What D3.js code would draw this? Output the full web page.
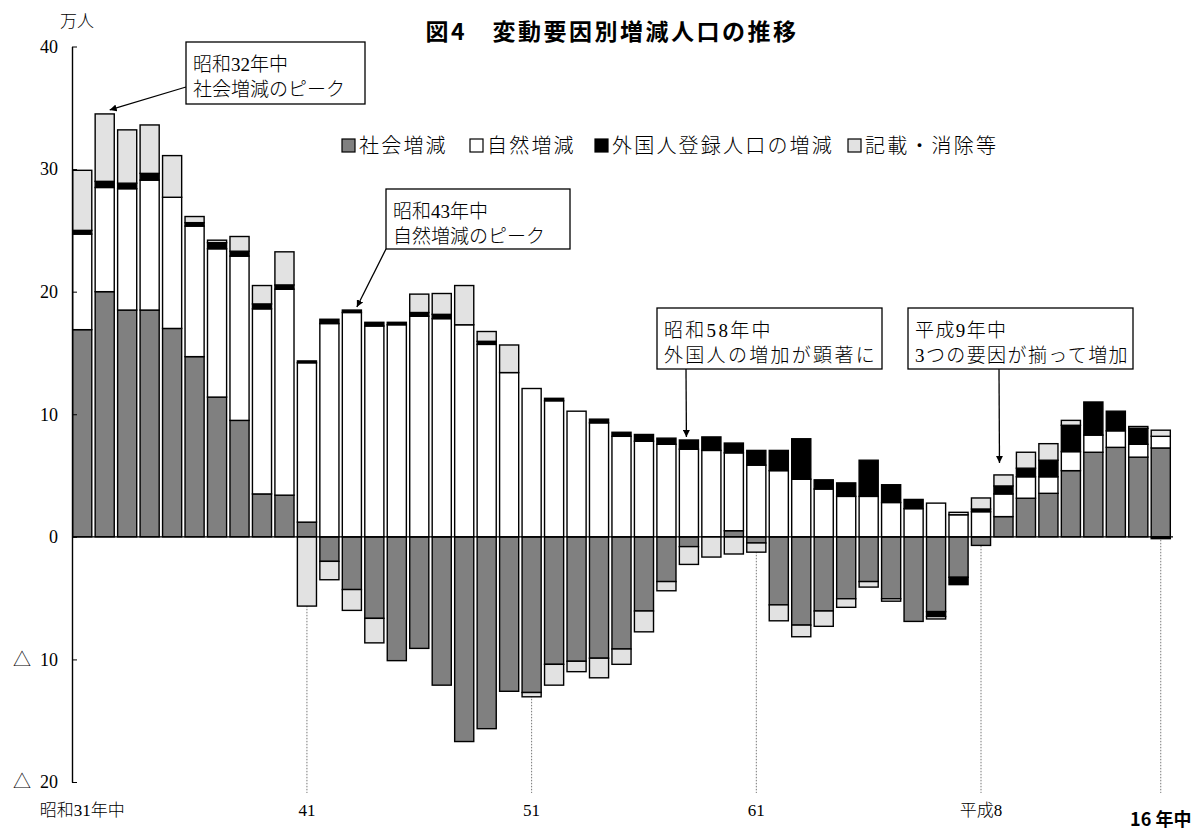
<!DOCTYPE html>
<html>
<head>
<meta charset="utf-8">
<script src="https://cdn.jsdelivr.net/npm/d3@7"></script>
<style>
  body { margin: 0; background: #fff; }
  svg { display: block; }
  .serif { font-family: "Liberation Serif", "Noto Sans CJK JP", serif; font-weight: 300; }
  .gothic { font-family: "Noto Sans CJK JP", "Noto Sans", sans-serif; }
</style>
</head>
<body>
<svg id="chart" width="1198" height="832"></svg>
<script>
// 年次（昭和31年〜平成16年）
const years = [
  "昭和31","昭和32","昭和33","昭和34","昭和35","昭和36","昭和37","昭和38","昭和39","昭和40",
  "昭和41","昭和42","昭和43","昭和44","昭和45","昭和46","昭和47","昭和48","昭和49","昭和50",
  "昭和51","昭和52","昭和53","昭和54","昭和55","昭和56","昭和57","昭和58","昭和59","昭和60",
  "昭和61","昭和62","昭和63","平成元","平成2","平成3","平成4","平成5","平成6","平成7",
  "平成8","平成9","平成10","平成11","平成12","平成13","平成14","平成15","平成16"
];

// 変動要因別増減人口（万人）
const social = [
  16.9, 20.0, 18.5, 18.5, 17.0, 14.7, 11.4, 9.5, 3.5, 3.4,
  1.2, -2.0, -4.3, -6.65, -10.1, -9.1, -12.1, -16.7, -15.65, -12.6,
  -12.7, -10.4, -10.15, -9.9, -9.15, -6.05, -3.65, -0.8, 0.0, 0.5,
  -0.5, -5.55, -7.2, -6.05, -5.05, -3.65, -5.05, -6.9, -6.1, -3.3,
  -0.7, 1.65, 3.15, 3.55, 5.4, 6.9, 7.3, 6.5, 7.25
];
const natural = [
  7.8, 8.5, 9.9, 10.6, 10.7, 10.65, 12.1, 13.4, 15.1, 16.8,
  13.0, 17.4, 18.3, 17.2, 17.3, 18.0, 17.8, 17.3, 15.7, 13.4,
  12.1, 11.1, 10.25, 9.3, 8.2, 7.8, 7.55, 7.15, 7.05, 6.35,
  5.85, 5.4, 4.7, 3.9, 3.3, 3.3, 2.8, 2.3, 2.75, 1.8,
  2.05, 1.85, 1.75, 1.35, 1.55, 1.4, 1.35, 1.05, 0.95
];
const foreign = [
  0.3, 0.5, 0.45, 0.55, 0.0, 0.28, 0.5, 0.4, 0.4, 0.35,
  0.15, 0.35, 0.2, 0.3, 0.2, 0.3, 0.35, 0.0, 0.25, 0.0,
  0.0, 0.2, 0.0, 0.3, 0.33, 0.55, 0.5, 0.75, 1.1, 0.8,
  1.2, 1.65, 3.3, 0.75, 1.1, 2.95, 1.45, 0.75, -0.4, -0.6,
  0.22, 0.65, 0.7, 1.35, 2.15, 2.7, 1.6, 1.3, -0.15
];
const misc = [
  4.9, 5.5, 4.35, 3.95, 3.4, 0.5, 0.2, 1.2, 1.5, 2.7,
  -5.65, -1.5, -1.7, -2.0, 0.0, 1.5, 1.7, 3.2, 0.8, 2.25,
  -0.35, -1.7, -0.85, -1.6, -1.25, -1.7, -0.75, -1.45, -1.65, -1.4,
  -0.75, -1.3, -0.95, -1.25, -0.7, -0.45, -0.2, 0.0, -0.2, 0.2,
  0.9, 0.9, 1.3, 1.35, 0.4, 0.0, 0.0, 0.15, 0.5
];

const seriesKeys = ["社会増減", "自然増減", "外国人登録人口の増減", "記載・消除等"];
const seriesColors = ["#808080", "#ffffff", "#000000", "#e2e2e2"];

// 横軸の目盛り
const tickYears = ["昭和31", "昭和41", "昭和51", "昭和61", "平成8", "平成16"];
const tickTexts = ["昭和31年中", "41", "51", "61", "平成8", "16 年中"];
const yTicks = [40, 30, 20, 10, 0, -10, -20];

// 吹き出し
const notes = [
  { year: "昭和32", lines: ["昭和32年中", "社会増減のピーク"] },
  { year: "昭和43", lines: ["昭和43年中", "自然増減のピーク"] },
  { year: "昭和58", lines: ["昭和58年中", "外国人の増加が顕著に"] },
  { year: "平成9",  lines: ["平成9年中", "3つの要因が揃って増加"] }
];

const svg = d3.select("#chart");

const x = d3.scaleBand().domain(years).range([71, 1172])
  .paddingInner(0.15).paddingOuter(0.075);
const y = d3.scaleLinear().domain([-20, 40]).range([782, 46.5]);

// 積み上げ（正負を分けて積む）
const rows = years.map((yr, i) => ({
  year: yr,
  "社会増減": social[i],
  "自然増減": natural[i],
  "外国人登録人口の増減": foreign[i],
  "記載・消除等": misc[i]
}));
const stacked = d3.stack().keys(seriesKeys).offset(d3.stackOffsetDiverging)(rows);

// 目盛り位置の点線
svg.append("g").selectAll("line")
  .data(tickYears.slice(1))
  .join("line")
  .attr("x1", d => x(d) + x.bandwidth() / 2)
  .attr("x2", d => x(d) + x.bandwidth() / 2)
  .attr("y1", y(0))
  .attr("y2", 793)
  .attr("stroke", "#777")
  .attr("stroke-width", 1)
  .attr("stroke-dasharray", "1.5,1.5");

// 棒
const bars = svg.append("g");
stacked.forEach((layer, li) => {
  bars.append("g")
    .selectAll("rect")
    .data(layer.filter(d => Math.abs(d[1] - d[0]) > 1e-9))
    .join("rect")
    .attr("x", d => x(d.data.year))
    .attr("width", x.bandwidth())
    .attr("y", d => y(Math.max(d[0], d[1])))
    .attr("height", d => Math.abs(y(d[0]) - y(d[1])))
    .attr("fill", seriesColors[li])
    .attr("stroke", "#000")
    .attr("stroke-width", 1.4);
});

// ゼロ線
svg.append("line")
  .attr("x1", 72).attr("x2", 1173)
  .attr("y1", y(0)).attr("y2", y(0))
  .attr("stroke", "#000").attr("stroke-width", 1.4);

// 縦軸
const yAxis = d3.axisLeft(y)
  .tickValues(yTicks)
  .tickSize(-5)
  .tickSizeOuter(0)
  .tickPadding(14)
  .tickFormat(d => d < 0 ? "△\u2002" + (-d) : String(d));
const gy = svg.append("g").attr("transform", "translate(72,0)").call(yAxis);
gy.select(".domain").attr("stroke", "#000").attr("stroke-width", 1.4);
gy.selectAll(".tick line").attr("stroke", "#000");
gy.selectAll(".tick text")
  .attr("class", "serif")
  .attr("font-size", 18)
  .attr("fill", "#000");

// 単位
svg.append("text").attr("class", "serif")
  .attr("x", 60).attr("y", 27)
  .attr("font-size", 17)
  .text("万人");

// 表題
svg.append("text").attr("class", "gothic")
  .attr("x", 612).attr("y", 40)
  .attr("text-anchor", "middle")
  .attr("font-size", 23)
  .attr("font-weight", "bold")
  .attr("letter-spacing", 2.5)
  .text("図4　変動要因別増減人口の推移");

// 横軸ラベル
svg.append("g").selectAll("text")
  .data(tickYears.slice(0, 5))
  .join("text")
  .attr("class", "serif")
  .attr("x", d => x(d) + x.bandwidth() / 2)
  .attr("y", 816)
  .attr("text-anchor", "middle")
  .attr("font-size", 17)
  .text((d, i) => tickTexts[i]);
svg.append("text").attr("class", "gothic")
  .attr("x", x(tickYears[5]) + x.bandwidth() / 2)
  .attr("y", 826)
  .attr("text-anchor", "middle")
  .attr("font-size", 18)
  .attr("font-weight", "bold")
  .text(tickTexts[5]);

// 凡例
const legendX = [342, 470, 595, 848];
const lg = svg.append("g");
seriesKeys.forEach((k, i) => {
  lg.append("rect")
    .attr("x", legendX[i]).attr("y", 139)
    .attr("width", 13).attr("height", 13)
    .attr("fill", seriesColors[i])
    .attr("stroke", "#000").attr("stroke-width", 1.2);
  lg.append("text").attr("class", "serif")
    .attr("x", legendX[i] + 17).attr("y", 153)
    .attr("font-size", 20)
    .attr("letter-spacing", 2.2)
    .text(k);
});

// 吹き出しと矢印
const defs = svg.append("defs");
defs.append("marker")
  .attr("id", "arrowhead")
  .attr("viewBox", "0 0 10 10")
  .attr("refX", 10).attr("refY", 5)
  .attr("markerWidth", 7).attr("markerHeight", 7)
  .attr("markerUnits", "userSpaceOnUse")
  .attr("orient", "auto")
  .append("path").attr("d", "M0,0 L10,5 L0,10 z").attr("fill", "#000");

const boxes = [
  { bx: 186, by: 42,  bw: 179, bh: 62, ls: 0,   from: [186, 87],  dx: 5,  dy: -4 },
  { bx: 386, by: 189, bw: 184, bh: 60, ls: 0,   from: [386, 249], dx: 5,  dy: -3 },
  { bx: 657, by: 308, bw: 225, bh: 61, ls: 2.3, from: [686, 369], dx: -2.5, dy: -3 },
  { bx: 908, by: 308, bw: 225, bh: 61, ls: 1.4, from: [999, 369], dx: -4, dy: -12 }
];
const totalPos = i => d3.sum([social[i], natural[i], foreign[i], misc[i]].filter(v => v > 0));

notes.forEach((n, k) => {
  const b = boxes[k];
  const i = years.indexOf(n.year);
  const tipX = x(n.year) + x.bandwidth() / 2 + b.dx;
  const tipY = y(totalPos(i)) + b.dy;
  svg.append("line")
    .attr("x1", b.from[0]).attr("y1", b.from[1])
    .attr("x2", tipX).attr("y2", tipY)
    .attr("stroke", "#000").attr("stroke-width", 1.3)
    .attr("marker-end", "url(#arrowhead)");
  svg.append("rect")
    .attr("x", b.bx).attr("y", b.by)
    .attr("width", b.bw).attr("height", b.bh)
    .attr("fill", "#fff").attr("stroke", "#000").attr("stroke-width", 1.3);
  n.lines.forEach((t, j) => {
    svg.append("text").attr("class", "serif")
      .attr("x", b.bx + 7).attr("y", b.by + 29 + j * 25)
      .attr("font-size", 19)
      .attr("letter-spacing", b.ls)
      .text(t);
  });
});
</script>
</body>
</html>
